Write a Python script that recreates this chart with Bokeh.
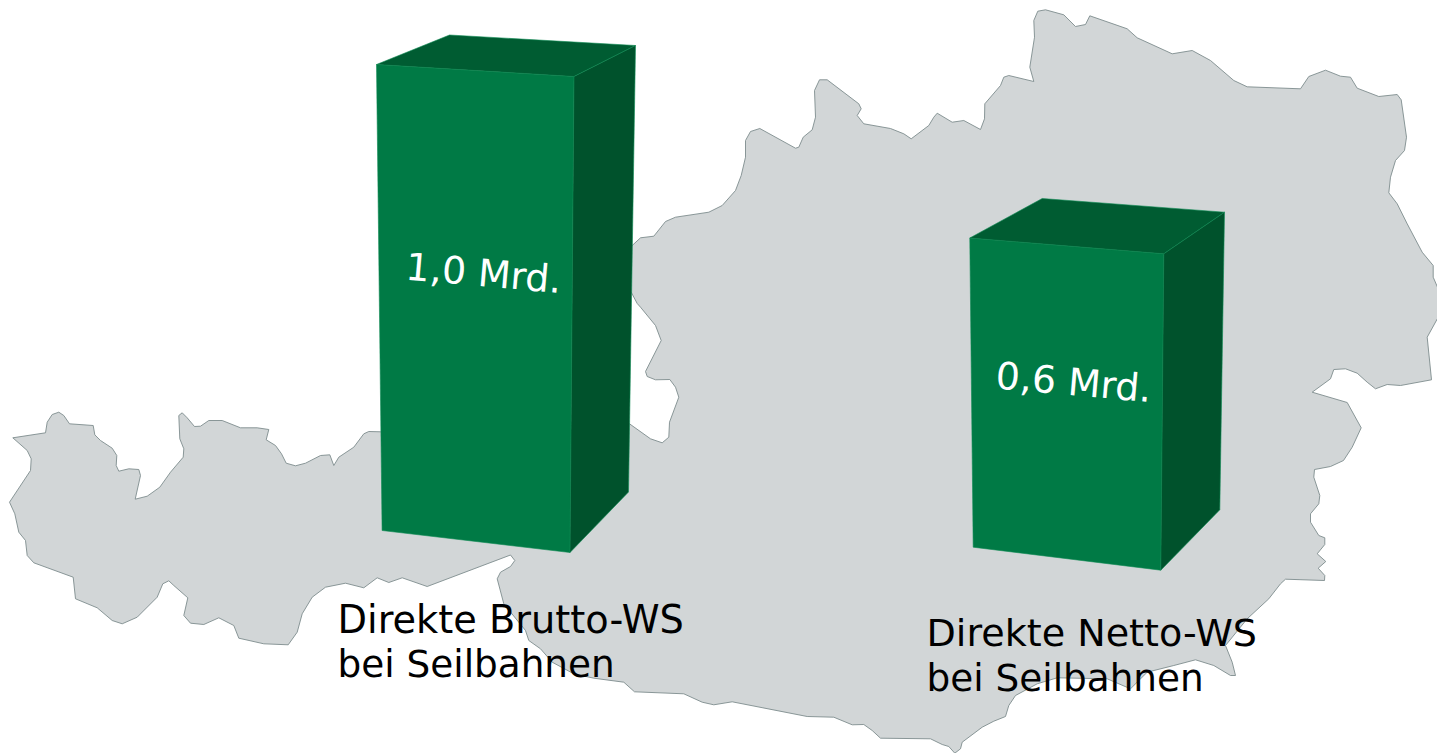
from bokeh.plotting import figure
from bokeh.embed import file_html
from bokeh.resources import INLINE
from bokeh.core.properties import value

# Outline of Austria (x, y in picture pixels)
MAP_OUTLINE = [
 (12.3,437.3),(45,432.3),(46.7,421.7),(51.7,414),(58.3,411.7),(63.3,415),(69,423.3),(92.7,425),(94.3,434.3),
 (100,440),(111.7,447.7),(116.3,455),(115.7,465),(118.3,470.7),(128.3,468.3),(138.3,469),(140,475),(134.7,498.7),
 (146.7,495.7),(159.3,486.7),(170,471.7),(182.7,456.7),(183.3,448.3),(179.3,438.3),(178.3,415),(181.7,412.3),
 (186.7,417.3),(194,426),(200,425.7),(208.3,420),(221.7,420),(240,427.3),(256.7,427.3),(268.3,429),(265.7,439.3),
 (275,445),(281,453.3),(285.7,462.7),(295,465.3),(305,462.7),(320,455),(329.3,454.3),(333.3,465),(338.3,456.7),
 (353.3,446.7),(363.3,433.3),(368.3,431),(380,431.3),
 (629,423.3),(650,438.3),(661.7,442.3),(668.3,436.7),(669,421.7),(678.3,396.7),(675,386.7),(669.3,379),(655,379.3),
 (646.7,376),(645,371),(660.7,340),(655,325),(640,306.7),(636.7,303),(630.7,291.7),(620,290),(620,245),
 (631.7,245),(640,237.3),(653.3,235.7),(665,221),(675,216.7),(708.3,211.7),(721.7,205),(735,190),(740.7,175),
 (745,156.7),(745,140),(750,131),(759.3,128),(795,147.7),(798.3,146.7),(802.7,136.7),(811.7,129.3),(815,116.7),
 (814,90),(819,79.3),(826.7,79.3),(858.3,103.3),(860.7,108.3),(856.7,115),(863.3,123.3),(890,128),(903.3,133.3),
 (910.7,138.3),(928.3,125),(933.3,116.7),(936.7,112.7),(951.7,121.7),(963.3,120),(980,129),(984,118.3),(984.3,103.3),
 (1000,85),(1003.3,76.7),(1008.3,75),(1033.3,81),(1029.3,66.7),(1034,36.7),(1033.3,20),(1037.3,10.7),(1045,9.3),
 (1063.3,14.3),(1075,26),(1085,24),(1089.3,15.3),(1126.7,28.3),(1136.7,37.3),(1171.7,53.3),(1191.7,50),(1210,60),
 (1233.3,80),(1246.7,86.3),(1300,88.3),(1308.3,76),(1325,69.7),(1340,75.7),(1350,76.7),(1356.7,87.7),(1378.3,96),
 (1396.7,94),(1400.7,99.3),(1406,136.7),(1404,150),(1395,160),(1390,176.7),(1388.3,192.3),(1396.7,203.3),
 (1406.7,223.3),(1421.7,251.7),(1432.7,265),(1432.7,276.7),(1437,286.7),(1437,318),(1426.7,336.7),(1431,379.3),
 (1400,385),(1386.7,384),(1375,388.3),(1366.7,381.7),(1356.7,372.7),(1345,368.3),(1333.3,369),(1330,378.3),
 (1311.7,391.7),(1346.7,402),(1360.7,427.3),(1351.7,446.7),(1343,460),(1330,466),(1314,469),(1313.3,476.7),
 (1319.3,495),(1318.3,503.3),(1310,513.3),(1310,521.7),(1318.3,535),(1324.3,537.3),(1324.3,544),(1316.7,553.3),
 (1325.3,561),(1317.7,567.7),(1324.3,575),(1324,580),(1285,578.7),(1280,583.3),(1268.3,598.3),(1246.7,618.3),
 (1225,645),(1231.7,661.7),(1235,675),(1230,675),(1213.3,665),(1195,659.3),(1173.3,665),(1146.7,671.7),(1130,688.3),
 (1106.7,678.3),(1056.7,677.3),(1036.7,683.3),(1015,695),(1008.3,705),(1005,716),(993.3,720.7),(981.7,726.7),
 (961.7,741.7),(960,748.3),(954.3,752.7),(948.3,746),(941.7,744),(930,738.3),(880,737.7),(871.7,730),(863.3,724),
 (851.7,724.3),(833.3,716.7),(806.7,716),(731.7,701.3),(713.3,704.3),(701.7,701.7),(683.3,693.3),(634,691.3),
 (623.3,681.7),(593.3,677.7),(573.3,673.3),(551.7,661.7),(540,648.3),(528.3,640),(525,630),(503.3,603.3),(496.7,578.3),
 (500,571.7),(510,566),(514.3,560),(510,554.5),(426.7,586),(401.7,577.3),(388.3,582),(376.7,577.3),(363.3,587.3),
 (345,582.7),(325,586.7),(311.7,596.7),(301.7,613.3),(296.7,631.7),(287.7,644.3),(263.3,643.3),(238.3,637.7),
 (233.3,625),(218.3,617.3),(203.3,624),(190,622.7),(183.3,615),(187.3,597.3),(173.3,585),(168.3,580.3),(162.3,583.3),
 (156.7,596.7),(136.7,616.7),(121.7,623.3),(111.7,620),(96.7,607.3),(75,598.3),(72.7,576.7),(33.3,562.3),(26.7,555),
 (25,540),(18.3,531.7),(14.3,513.3),(9,501.7),(30,470),(30.7,458.3),(26.7,450),
]

# Values and labels
BAR_LABELS = ["1,0 Mrd.", "0,6 Mrd."]
CAPTION_LINES = ["Direkte Brutto-WS", "bei Seilbahnen", "Direkte Netto-WS", "bei Seilbahnen"]

# Corners of the two drawn boxes
BAR1_FRONT = [(376,64),(573.5,76),(569.5,552),(381.6,530)]
BAR1_TOP   = [(376,64),(449,34.5),(635,45),(573.5,76)]
BAR1_SIDE  = [(573.5,76),(635,45),(628,491.5),(569.5,552)]
BAR2_FRONT = [(969.3,237.5),(1163.3,253.3),(1160.3,569.7),(972.7,546.7)]
BAR2_TOP   = [(969.3,237.5),(1041.7,198),(1224,211.7),(1163.3,253.3)]
BAR2_SIDE  = [(1163.3,253.3),(1224,211.7),(1219.3,509.3),(1160.3,569.7)]

BAR_LABEL_X = [405.5, 995.5]
BAR_LABEL_Y = [266, 375]
CAPTION_X = [337, 337, 926, 926]
CAPTION_Y = [619, 663, 632, 677]
CAPTION_SIZE = ["38.3px", "37.4px", "38.1px", "37.4px"]

FRONT, TOP, SIDE, EDGE = "#007A45", "#005C32", "#00522C", "#0B8A52"
LAND, LAND_EDGE = "#D2D6D7", "#7E8C8D"

p = figure(width=1437, height=753, x_range=(0, 1437), y_range=(753, 0),
           output_backend="svg", toolbar_location=None, min_border=0,
           x_axis_type="linear", tools="")
p.axis.visible = False
p.grid.visible = False
p.outline_line_color = None
p.background_fill_color = "white"
p.border_fill_color = "white"

p.patch([a for a, _ in MAP_OUTLINE], [b for _, b in MAP_OUTLINE], fill_color=LAND,
        line_color=LAND_EDGE, line_width=0.9, line_join="round")

for shape, colour in [(BAR1_FRONT, FRONT), (BAR1_TOP, TOP), (BAR1_SIDE, SIDE),
                      (BAR2_FRONT, FRONT), (BAR2_TOP, TOP), (BAR2_SIDE, SIDE)]:
    p.patch([a for a, _ in shape], [b for _, b in shape], fill_color=colour,
            line_color=EDGE, line_width=0.6, line_join="round")

p.text(BAR_LABEL_X, BAR_LABEL_Y, text=BAR_LABELS, text_color="white",
       text_font=value("DejaVu Sans"), text_font_size=value("37.9px"),
       text_align="left", text_baseline="alphabetic", angle=-5, angle_units="deg")
for cx, cy, line, size in zip(CAPTION_X, CAPTION_Y, CAPTION_LINES, CAPTION_SIZE):
    p.text([cx], [cy], text=[line], text_color="black",
           text_font=value("DejaVu Sans"), text_font_size=value(size),
           text_align="left", text_baseline="alphabetic")

open("out.html", "w").write(file_html(p, INLINE))
